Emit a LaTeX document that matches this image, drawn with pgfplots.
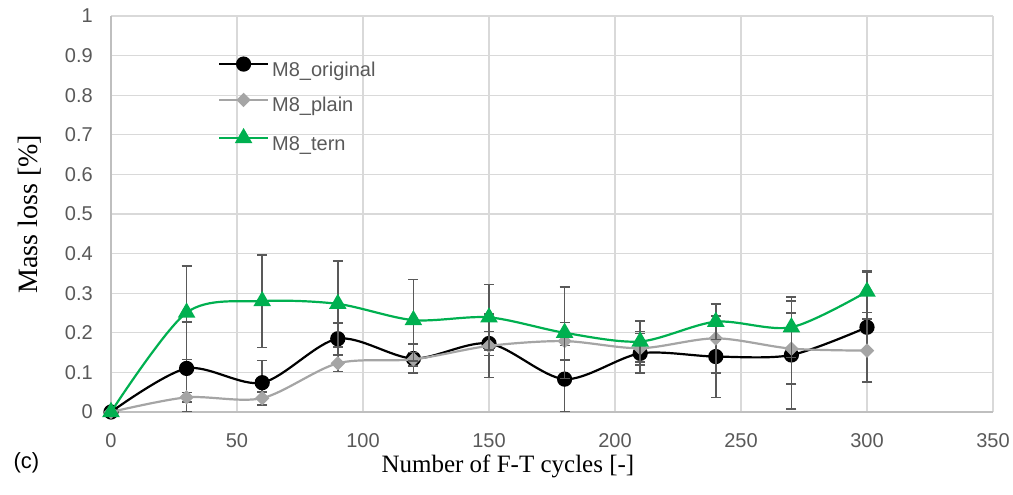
\documentclass[border=0pt]{standalone}
\usepackage{fontspec}
\setmainfont{Liberation Serif}
\newfontfamily\arial{Liberation Sans}
\usepackage{pgfplots}
\pgfplotsset{compat=1.18}
\definecolor{tickgray}{HTML}{595959}
\definecolor{gridgray}{HTML}{D9D9D9}
\definecolor{axgray}{HTML}{BFBFBF}
\definecolor{mgreen}{HTML}{00B050}
\definecolor{mgrey}{HTML}{A5A5A5}
\definecolor{errgray}{HTML}{595959}
\begin{document}
\begin{tikzpicture}
\path[use as bounding box] (-111pt,-83pt) rectangle (902pt,412pt);
\begin{axis}[
  scale only axis, width=882pt, height=396pt,
  at={(0pt,0pt)}, anchor=south west,
  xmin=0, xmax=350, ymin=0, ymax=1,
  xtick={0,50,...,350},
  ytick={0,0.1,0.2,0.3,0.4,0.5,0.6,0.7,0.8,0.9,1},
  axis lines=left, axis line style={-, draw=axgray, line width=1.3pt},
  grid=major, major grid style={draw=gridgray, line width=1.3pt},
  major tick length=0pt,
  tick label style={font=\arial\fontsize{20}{24}\selectfont, text=tickgray, inner sep=0pt},
  xticklabel style={anchor=north, yshift=-21pt},
  yticklabel style={anchor=east, xshift=-18pt},
  /pgf/number format/assume math mode=true,
  xlabel={Number of F-T cycles [-]},
  xlabel style={at={(axis description cs:0.45,-0.138)}, anchor=center, font=\fontsize{25}{30}\selectfont},
  ylabel={Mass loss [\%]},
  ylabel style={at={(axis description cs:-0.0918,0.5)}, anchor=center, font=\fontsize{28}{32}\selectfont},
  clip mode=individual,
  legend cell align=left,
  legend style={at={(rel axis cs:0.1213,0.895)}, anchor=north west, draw=none, fill=none,
    inner sep=0pt, outer sep=0pt, row sep=14.2pt, column sep=3pt,
    font=\arial\fontsize{20}{24}\selectfont, text=tickgray,
    nodes={inner sep=0pt, text height=14pt, text depth=4pt}},
  legend image code/.code={\draw[mark repeat=2,mark phase=2,#1] plot coordinates {(0pt,7pt) (24.5pt,7pt) (49pt,7pt)};},
  error bars/y dir=both, error bars/y explicit,
  error bars/error bar style={errgray, line width=1.6pt, solid},
  error bars/error mark options={rotate=90, errgray, line width=1.6pt, mark size=5pt},
]
\addplot[black, line width=2.2pt, smooth, mark=*, mark size=6.5pt, mark options={fill=black, draw=black}]
coordinates {
(0,0) +- (0,0)
(30,0.110) += (0,0.118) -= (0,0.110)
(60,0.074) +- (0,0.056)
(90,0.185) +- (0,0.040)
(120,0.135) +- (0,0.037)
(150,0.173) +- (0,0.030)
(180,0.083) += (0,0.085) -= (0,0.083)
(210,0.148) +- (0,0.050)
(240,0.140) +- (0,0.103)
(270,0.144) +- (0,0.137)
(300,0.214) +- (0,0.140)
};
\addlegendentry{M8\_original}
\addplot[mgrey, line width=2.2pt, smooth, mark=square*, mark size=4pt, mark options={rotate=45, fill=mgrey, draw=mgrey}]
coordinates {
(0,0) +- (0,0)
(30,0.037) +- (0,0.012)
(60,0.035) +- (0,0.016)
(90,0.123) +- (0,0.021)
(120,0.133) +- (0,0.017)
(150,0.167) +- (0,0.080)
(180,0.179) +- (0,0.047)
(210,0.161) +- (0,0.042)
(240,0.186) +- (0,0.088)
(270,0.160) +- (0,0.090)
(300,0.155) +- (0,0.080)
};
\addlegendentry{M8\_plain}
\addplot[mgreen, line width=2.2pt, smooth, mark=triangle*, mark size=8pt, mark options={fill=mgreen, draw=mgreen}]
coordinates {
(0,0) +- (0,0)
(30,0.251) +- (0,0.118)
(60,0.280) +- (0,0.117)
(90,0.273) +- (0,0.109)
(120,0.232) +- (0,0.103)
(150,0.239) +- (0,0.083)
(180,0.200) +- (0,0.115)
(210,0.178) +- (0,0.052)
(240,0.228) +- (0,0.045)
(270,0.214) +- (0,0.076)
(300,0.304) +- (0,0.053)
};
\addlegendentry{M8\_tern}
\end{axis}
\node[font=\arial\fontsize{22}{26}\selectfont, anchor=west, text=black] at (-101pt,-51pt) {(c)};
\end{tikzpicture}
\end{document}
